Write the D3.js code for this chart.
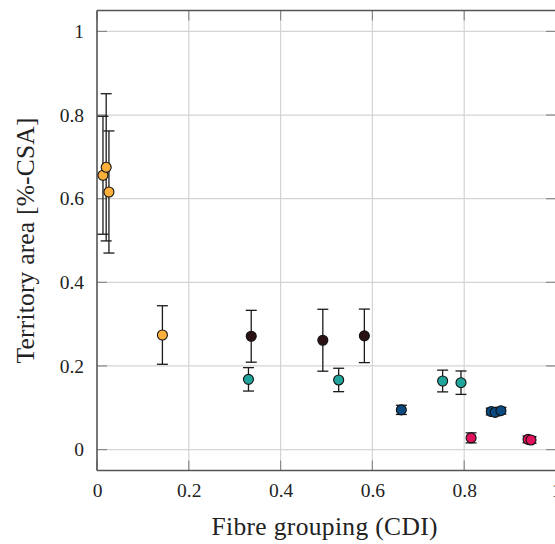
<!DOCTYPE html>
<html>
<head>
<meta charset="utf-8">
<script src="https://cdn.jsdelivr.net/npm/d3@7"></script>
<style>
  html, body { margin: 0; padding: 0; background: #fff; }
  svg { display: block; }
  svg text { font-family: "Liberation Serif", "DejaVu Serif", serif !important; fill: #222; }
</style>
</head>
<body>
<svg id="chart" width="555" height="544"></svg>
<script>
// ---- data ----
const groups = ["orange", "dark", "teal", "navy", "pink"];
const groupColors = ["#fbb03b", "#2b1214", "#20a59c", "#0b4a80", "#e0125e"];

const pointGroup = ["orange","orange","orange","orange",
                    "dark","dark","dark",
                    "teal","teal","teal","teal",
                    "navy","navy","navy","navy",
                    "pink","pink","pink"];
const cdi  = [0.013, 0.020, 0.026, 0.1425,
              0.336, 0.492, 0.5825,
              0.330, 0.5265, 0.753, 0.793,
              0.663, 0.859, 0.8675, 0.880,
              0.815, 0.939, 0.9455];
const area = [0.656, 0.675, 0.616, 0.274,
              0.271, 0.2615, 0.272,
              0.168, 0.1665, 0.164, 0.160,
              0.095, 0.091, 0.089, 0.093,
              0.028, 0.0245, 0.023];
const err  = [0.141, 0.176, 0.146, 0.070,
              0.062, 0.074, 0.064,
              0.028, 0.028, 0.026, 0.028,
              0.011, 0.008, 0.008, 0.008,
              0.012, 0.008, 0.008];

const xTicks = [0, 0.2, 0.4, 0.6, 0.8, 1];
const yTicks = [0, 0.2, 0.4, 0.6, 0.8, 1];
const xLabel = "Fibre grouping (CDI)";
const yLabel = "Territory area [%-CSA]";

// ---- layout ----
const FONT = '"Liberation Serif", "DejaVu Serif", serif';
const svg = d3.select("#chart");
const L = 97, R = 556, T = 10.5, B = 470.5;
const x = d3.scaleLinear().domain([0, 1]).range([L, R]);
const y = d3.scaleLinear().domain([-0.05, 1.05]).range([B, T]);
const color = d3.scaleOrdinal().domain(groups).range(groupColors);

// grid
const grid = svg.append("g");
grid.selectAll(".gx").data(xTicks.slice(1, -1)).join("line")
  .attr("x1", d => x(d)).attr("x2", d => x(d)).attr("y1", T).attr("y2", B)
  .attr("stroke", "#d4d4d4").attr("stroke-width", 1.2);
grid.selectAll(".gy").data(yTicks).join("line")
  .attr("x1", L).attr("x2", R).attr("y1", d => y(d)).attr("y2", d => y(d))
  .attr("stroke", "#d4d4d4").attr("stroke-width", 1.2);

// inward tick marks on all four sides
const tl = 10;
const tk = svg.append("g").attr("stroke", "#8a8a8a").attr("stroke-width", 1.2);
xTicks.forEach(v => {
  tk.append("line").attr("x1", x(v)).attr("x2", x(v)).attr("y1", B).attr("y2", B - tl);
  tk.append("line").attr("x1", x(v)).attr("x2", x(v)).attr("y1", T).attr("y2", T + tl);
});
yTicks.forEach(v => {
  tk.append("line").attr("x1", L).attr("x2", L + tl).attr("y1", y(v)).attr("y2", y(v));
  tk.append("line").attr("x1", R).attr("x2", R - tl).attr("y1", y(v)).attr("y2", y(v));
});

// axes with labels (d3 axes, lines hidden; frame drawn separately)
const xAxis = svg.append("g").attr("transform", `translate(0,${B})`)
  .call(d3.axisBottom(x).tickValues(xTicks).tickFormat(d3.format("~g")).tickSize(0).tickPadding(13));
const yAxis = svg.append("g").attr("transform", `translate(${L},0)`)
  .call(d3.axisLeft(y).tickValues(yTicks).tickFormat(d3.format("~g")).tickSize(0).tickPadding(13));
[xAxis, yAxis].forEach(a => {
  a.attr("font-family", null);
  a.select(".domain").remove();
  a.selectAll("text").attr("font-size", 19.5).style("font-family", FONT).attr("fill", "#222");
});

// frame
const frame = svg.append("g").attr("stroke", "#555").attr("stroke-width", 1.6).attr("fill", "none");
frame.append("line").attr("x1", L).attr("x2", R).attr("y1", T).attr("y2", T);
frame.append("line").attr("x1", L).attr("x2", R).attr("y1", B).attr("y2", B);
frame.append("line").attr("x1", L).attr("x2", L).attr("y1", T).attr("y2", B);
frame.append("line").attr("x1", R).attr("x2", R).attr("y1", T).attr("y2", B);

// data records
const pts = cdi.map((c, i) => ({ x: c, y: area[i], e: err[i], g: pointGroup[i] }));

// error bars
const cap = 5.5;
const eb = svg.append("g").attr("stroke", "#1a1a1a").attr("stroke-width", 1.3);
pts.forEach(p => {
  eb.append("line").attr("x1", x(p.x)).attr("x2", x(p.x)).attr("y1", y(p.y - p.e)).attr("y2", y(p.y + p.e));
  eb.append("line").attr("x1", x(p.x) - cap).attr("x2", x(p.x) + cap).attr("y1", y(p.y - p.e)).attr("y2", y(p.y - p.e));
  eb.append("line").attr("x1", x(p.x) - cap).attr("x2", x(p.x) + cap).attr("y1", y(p.y + p.e)).attr("y2", y(p.y + p.e));
});

// markers
svg.append("g").selectAll("circle").data(pts).join("circle")
  .attr("cx", d => x(d.x)).attr("cy", d => y(d.y)).attr("r", 5)
  .attr("fill", d => color(d.g)).attr("stroke", "#111").attr("stroke-width", 1.1);

// axis titles
svg.append("text").attr("x", (L + R) / 2 - 2).attr("y", 535)
  .attr("text-anchor", "middle").attr("font-size", 25.5).style("font-family", FONT)
  .attr("textLength", 226).attr("lengthAdjust", "spacing")
  .text(xLabel);
svg.append("text").attr("transform", `translate(34,${(T + B) / 2}) rotate(-90)`)
  .attr("text-anchor", "middle").attr("font-size", 25.5).style("font-family", FONT)
  .attr("textLength", 246).attr("lengthAdjust", "spacing")
  .text(yLabel);
</script>
</body>
</html>
